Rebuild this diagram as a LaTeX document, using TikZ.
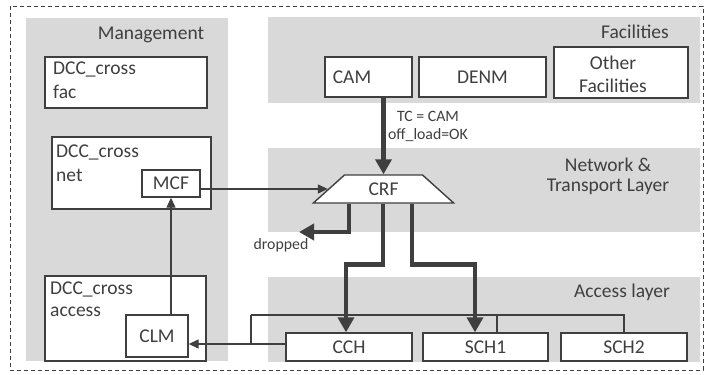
\documentclass[tikz,border=0pt]{standalone}
\usepackage{fontspec}
\setmainfont{Carlito}
\usetikzlibrary{arrows.meta,shapes.geometric,calc}
\definecolor{ln}{HTML}{3F3F3F}
\definecolor{pan}{HTML}{D9D9D9}
\begin{document}
\begin{tikzpicture}[x=1pt,y=-1pt,
  every node/.style={text=ln, font=\fontsize{19.5}{23}\selectfont, inner sep=0pt},
  panel/.style={fill=pan, draw=none},
  box/.style={draw=ln, line width=1.4pt, fill=white, align=center},
  thickarr/.style={draw=ln, line width=4.5pt, -{Triangle[length=15pt,width=16pt]}},
  thinarr/.style={draw=ln, line width=1.2pt, -{Triangle[length=10pt,width=9pt]}},
  bus/.style={draw=ln, line width=1.2pt},
  small/.style={font=\fontsize{15.8}{18}\selectfont}]
\useasboundingbox (0,0) rectangle (705,375);
\draw[ln, line width=1pt, dash pattern=on 4pt off 3pt] (10,6) rectangle (703,370);
% panels
\fill[pan] (26,18) rectangle (228,361);
\fill[pan] (268,17) rectangle (700,103);
\fill[pan] (268,148) rectangle (700,232);
\fill[pan] (268,277) rectangle (700,362);
% titles
\node[anchor=base] (tman) at (151,39) {Management};
\node[anchor=base] (tfac) at (635,38) {Facilities};
\node[align=center, font=\fontsize{19.5}{20}\selectfont] (tnet) at (608,176) {Network \&\\Transport Layer};
\node[anchor=base] (tacc) at (622,297) {Access layer};
% management boxes
\node[box, minimum width=162, minimum height=51] (fac) at (126,82.5) {};
\node[anchor=base west, align=left, font=\fontsize{19.5}{24}\selectfont] (facl) at (53,98) {DCC\_cross\\fac};
\node[box, minimum width=159, minimum height=72] (net) at (131.5,173) {};
\node[anchor=base west, align=left, font=\fontsize{19.5}{24}\selectfont] (netl) at (56,181) {DCC\_cross\\net};
\node[box, minimum width=58, minimum height=27] (mcf) at (171,183.5) {MCF};
\node[box, minimum width=161, minimum height=85] (acc) at (125.5,318.5) {};
\node[anchor=base west, align=left, font=\fontsize{19.5}{22}\selectfont] (accl) at (50,316) {DCC\_cross\\access};
\node[box, minimum width=62, minimum height=42] (clm) at (157,336) {CLM};
% facilities
\node[box, minimum width=87, minimum height=40] (cam) at (368.5,77) {};
\node (caml) at (352,77) {CAM};
\node[box, minimum width=127, minimum height=40] (denm) at (482.5,77) {DENM};
\node[box, minimum width=134, minimum height=51] (oth) at (621,72.5) {};
\node[align=center] (othl) at (613,74) {Other\\Facilities};
% CRF
\node[draw=ln, line width=1.4pt, fill=white, trapezium, trapezium angle=47,
      trapezium stretches=true, minimum width=141, minimum height=28] (crf) at (383.5,189) {CRF};
% access
\node[box, minimum width=126, minimum height=28] (cch) at (349,347) {CCH};
\node[box, minimum width=125, minimum height=28] (sch1) at (485.5,347) {SCH1};
\node[box, minimum width=126, minimum height=28] (sch2) at (624,347) {SCH2};
% connectors
\draw[thickarr] (cam.south -| crf.north) -- (crf.north);
\node[small, align=center] (tc) at (428,126) {TC = CAM\\off\_load=OK};
\draw[thinarr] (mcf.east |- crf.west) -- (crf.west);
\coordinate (dropend) at (299,232);
\draw[thickarr] ([xshift=-34.5pt]crf.south) |- (dropend);
\node[small, anchor=base] (drop) at (281,249) {dropped};
\coordinate (busL) at (251,315);
\coordinate (joinp) at (251,344);
\draw[bus] (busL) -- (busL -| sch2.north) -- (sch2.north);
\draw[bus] ([xshift=11.5pt]sch1.north) -- ++(0,-18);
\draw[bus] (busL) -- (joinp);
\draw[thickarr] ([xshift=-0.5pt]crf.south) -- ++(0,61) -| ([xshift=-3pt]cch.north);
\draw[thickarr] ([xshift=28.5pt]crf.south) -- ++(0,61) -| ([xshift=-10.5pt]sch1.north);
\draw[thinarr] (cch.west |- joinp) -- (clm.east |- joinp);
\draw[thinarr] (clm.north -| mcf.south) -- (mcf.south);
\end{tikzpicture}
\end{document}
